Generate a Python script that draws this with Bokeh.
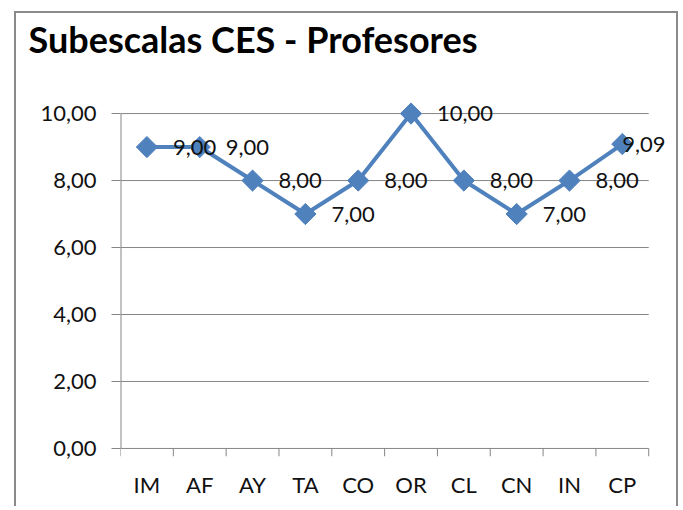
import math
from bokeh.plotting import figure
from bokeh.models import ColumnDataSource, LabelSet, FixedTicker, Range1d, Title
from bokeh.core.properties import value
from bokeh.embed import file_html
from bokeh.resources import INLINE

# ---- data ----
categories = ["IM", "AF", "AY", "TA", "CO", "OR", "CL", "CN", "IN", "CP"]
values = [9.00, 9.00, 8.00, 7.00, 8.00, 10.00, 8.00, 7.00, 8.00, 9.09]
y_ticks = [0, 2, 4, 6, 8, 10]
y_tick_labels = ["0,00", "2,00", "4,00", "6,00", "8,00", "10,00"]
title_text = "Subescalas CES - Profesores"

# ---- style ----
BLUE = "#4F81BD"
GRAY = "#868686"
TXT = "#111111"
FONT = "Lato"
W, H = 664, 495

n = len(categories)
x_pos = [i + 0.5 for i in range(n)]          # category centres on the axis scale
value_labels = [f"{v:.2f}".replace(".", ",") for v in values]
label_dx = [26] * (n - 1) + [0]              # Excel pulls the last label inside

src = ColumnDataSource(dict(x=x_pos, cat=categories, val=values,
                            lbl=value_labels, dx=label_dx))

p = figure(width=W, height=H,
           x_range=Range1d(0, n + 0.45),
           y_range=Range1d(-0.24, 10.45),
           output_backend="svg", toolbar_location=None,
           min_border_left=104, min_border_right=8,
           min_border_top=85, min_border_bottom=52,
           background_fill_color="white", border_fill_color="white")
p.outline_line_color = None
p.margin = (11, 0, 0, 14)
p.styles = {"border-left": "2px solid #8a8a8a", "border-top": "2px solid #8a8a8a",
            "border-right": "2px solid #8a8a8a"}

# title (outermost) with an empty spacer panel between it and the plot area
p.title.text = title_text
p.title.text_font = FONT
p.title.text_font_style = "bold"
p.title.text_font_size = "36px"
p.title.text_color = "#000000"
p.title.align = "left"
p.title.offset = -92
p.title.standoff = 0
p.add_layout(Title(text=" ", text_font=FONT, text_font_size="30px", standoff=0), "above")

# y axis
p.yaxis.ticker = FixedTicker(ticks=y_ticks)
p.yaxis.major_label_overrides = {t: s for t, s in zip(y_ticks, y_tick_labels)}
p.yaxis.axis_line_color = None
p.yaxis.major_tick_line_color = GRAY
p.yaxis.major_tick_out = 9
p.yaxis.major_tick_in = 0
p.yaxis.minor_tick_line_color = None
p.yaxis.major_label_standoff = 15
p.yaxis.major_label_text_font = FONT
p.yaxis.major_label_text_font_size = "22px"
p.yaxis.major_label_text_color = TXT

# x axis: category names at the category centres
p.xaxis.ticker = FixedTicker(ticks=x_pos)
p.xaxis.major_label_overrides = {x: c for x, c in zip(x_pos, categories)}
p.xaxis.axis_line_color = None
p.xaxis.major_tick_line_color = None
p.xaxis.minor_tick_line_color = None
p.xaxis.major_label_standoff = 8
p.xaxis.major_label_text_font = FONT
p.xaxis.major_label_text_font_size = "22px"
p.xaxis.major_label_text_color = TXT

p.xgrid.visible = False
p.ygrid.visible = False

ymin, ymax = y_ticks[0], y_ticks[-1]
# gridlines (only over the category span)
p.segment(x0=[0] * (len(y_ticks) - 1), y0=y_ticks[1:], x1=[n] * (len(y_ticks) - 1),
          y1=y_ticks[1:], line_color=GRAY, line_width=1)
# axis lines and category-boundary ticks (Excel style)
p.segment(x0=[0], y0=[ymin], x1=[0], y1=[ymax], line_color=GRAY, line_width=2)
p.segment(x0=[0], y0=[ymin], x1=[n], y1=[ymin], line_color=GRAY, line_width=1)
p.segment(x0=list(range(n + 1)), y0=[ymin] * (n + 1), x1=list(range(n + 1)),
          y1=[-0.24] * (n + 1), line_color=GRAY, line_width=1)

# series
p.line(x="x", y="val", source=src, line_color=BLUE, line_width=4)
p.scatter(x="x", y="val", source=src, marker="square", size=15, angle=math.pi / 4,
          fill_color=BLUE, line_color=BLUE)

p.add_layout(LabelSet(x="x", y="val", text="lbl", source=src,
                      x_offset="dx", y_offset=0,
                      text_baseline="middle", text_align="left",
                      text_font=value(FONT), text_font_size="22px", text_color=TXT))

open("out.html", "w").write(file_html(p, INLINE))
